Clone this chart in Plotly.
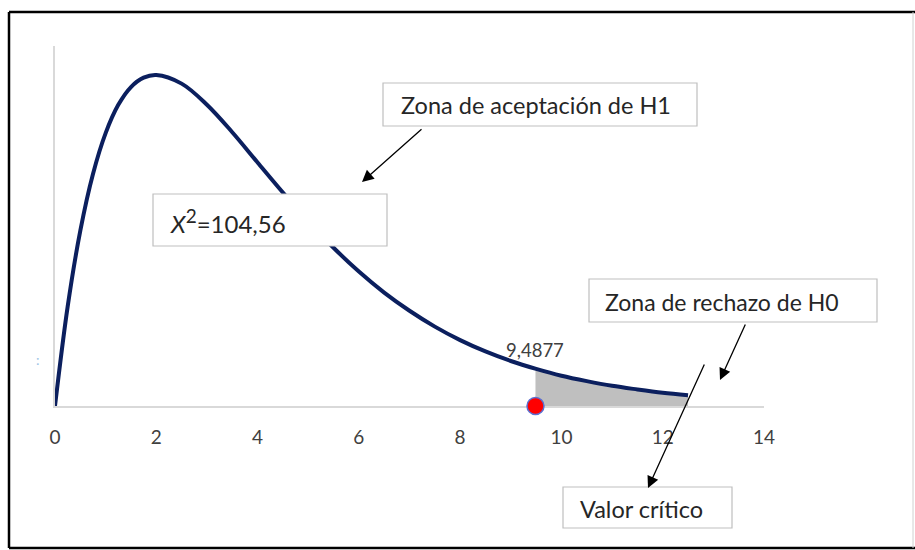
import plotly.graph_objects as go

# ---- data ----
curve_x = [0, 0.25, 0.5, 0.75, 1, 1.25, 1.5, 1.75, 2, 2.5, 3, 3.5, 4, 4.5, 5, 5.5, 6,
           6.5, 7, 7.5, 8, 8.5, 9, 9.5, 10, 10.5, 11, 11.5, 12, 12.5]
curve_y = [0, 0.0552, 0.0974, 0.1289, 0.1516, 0.1673, 0.1772, 0.1824, 0.1839, 0.1791,
           0.1674, 0.1521, 0.1353, 0.1186, 0.1026, 0.0879, 0.0747, 0.0630, 0.0529,
           0.0441, 0.0366, 0.0303, 0.0250, 0.0206, 0.0168, 0.0138, 0.0112, 0.0092,
           0.0074, 0.0060]
shade_x = [9.4877, 10, 10.5, 11, 11.5, 12, 12.5]
shade_y = [0.0210, 0.0168, 0.0138, 0.0112, 0.0092, 0.0074, 0.0060]
critical_value = 9.4877
critical_label = "9,4877"
x_ticks = [0, 2, 4, 6, 8, 10, 12, 14]
stat_text = "<i>X</i><sup><span style='font-size:19px'>2</span></sup>=104,56"
label_accept = "Zona de aceptación de H1"
label_reject = "Zona de rechazo de H0"
label_critical = "Valor crítico"

W, H = 915, 550
FONT = "Lato"
TXT = "#262626"


def px(x):
    return x / W


def py(y):
    return 1 - y / H


fig = go.Figure()
fig.add_trace(go.Scatter(x=shade_x, y=shade_y, mode="lines", fill="tozeroy",
                         fillcolor="#bfbfbf", line=dict(color="#bfbfbf", width=0.5),
                         hoverinfo="skip", showlegend=False))
fig.add_trace(go.Scatter(x=curve_x, y=curve_y, mode="lines",
                         line=dict(color="#0b1f5e", width=4, shape="spline"),
                         showlegend=False))
fig.add_trace(go.Scatter(x=[critical_value], y=[0], mode="markers",
                         marker=dict(size=17, color="#ff0000",
                                     line=dict(color="#5b6fd1", width=1.5)),
                         cliponaxis=False, showlegend=False))

shapes = []
# outer frame
shapes.append(dict(type="line", xref="paper", yref="paper", x0=px(9), x1=px(9),
                   y0=py(12), y1=py(548), line=dict(color="black", width=2.5)))
shapes.append(dict(type="line", xref="paper", yref="paper", x0=px(9), x1=px(915),
                   y0=py(12), y1=py(12), line=dict(color="black", width=2.5)))
shapes.append(dict(type="line", xref="paper", yref="paper", x0=px(9), x1=px(915),
                   y0=py(548), y1=py(548), line=dict(color="black", width=2.5)))
shapes.append(dict(type="line", xref="paper", yref="paper", x0=px(913), x1=px(913),
                   y0=py(12), y1=py(548), line=dict(color="#d0d0d0", width=1)))

boxes = [(383, 83, 697, 126), (153, 194, 387, 246), (589, 279, 877, 322), (563, 487, 732, 528)]
for x0, y0, x1, y1 in boxes:
    shapes.append(dict(type="rect", xref="paper", yref="paper", x0=px(x0), x1=px(x1),
                       y0=py(y0), y1=py(y1), fillcolor="white",
                       line=dict(color="#bfbfbf", width=1.2), layer="above"))

annotations = []
for text, x, y, s in [(label_accept, 399, 105, 23.5), (stat_text, 168, 221, 24),
                      (label_reject, 603, 302, 23), (label_critical, 578, 509, 23.5)]:
    annotations.append(dict(text=text, x=px(x), y=py(y), xref="paper", yref="paper",
                            xanchor="left", yanchor="middle", showarrow=False,
                            font=dict(family=FONT, size=s, color=TXT)))

# arrows (tip, tail)
for (tx, ty), (sx, sy) in [((362, 182), (423, 128)), ((720, 380), (746, 323)),
                           ((648, 488), (705, 363))]:
    annotations.append(dict(text="", x=px(tx), y=py(ty), xref="paper", yref="paper",
                            ax=sx - tx, ay=sy - ty, showarrow=True, arrowhead=2,
                            arrowsize=1.8, arrowwidth=1.3, arrowcolor="black"))

annotations.append(dict(text=critical_label, x=critical_value, y=0.0239, xref="x", yref="y",
                        xanchor="center", yanchor="bottom", showarrow=False,
                        font=dict(family=FONT, size=18.5, color="#404040")))
annotations.append(dict(text=":", x=px(34), y=py(370), xref="paper", yref="paper",
                        showarrow=False, font=dict(family=FONT, size=14, color="#9dc3e6")))

fig.update_layout(
    width=W, height=H, autosize=False, margin=dict(l=0, r=0, t=0, b=0, pad=0),
    paper_bgcolor="white", plot_bgcolor="white",
    shapes=shapes, annotations=annotations,
    xaxis=dict(domain=[px(55), px(764)], range=[0, 14], tickvals=x_ticks,
               automargin=False,
               showgrid=False, zeroline=False, showline=True, linecolor="#d9d9d9",
               linewidth=2, ticks="", ticklabelstandoff=13, layer="below traces",
               tickfont=dict(family=FONT, size=19, color="#404040")),
    yaxis=dict(domain=[py(406), py(46)], range=[0, 0.2], showgrid=False, zeroline=False,
               automargin=False,
               showline=True, linecolor="#d9d9d9", linewidth=2, showticklabels=False,
               ticks="", layer="below traces"),
)

fig.write_html(
    "out.html",
    config={"displayModeBar": False, "responsive": False},
    post_script=("document.documentElement.style.overflow='hidden';"
                 "document.body.style.overflow='hidden';"
                 "document.body.style.margin='0';"),
)
